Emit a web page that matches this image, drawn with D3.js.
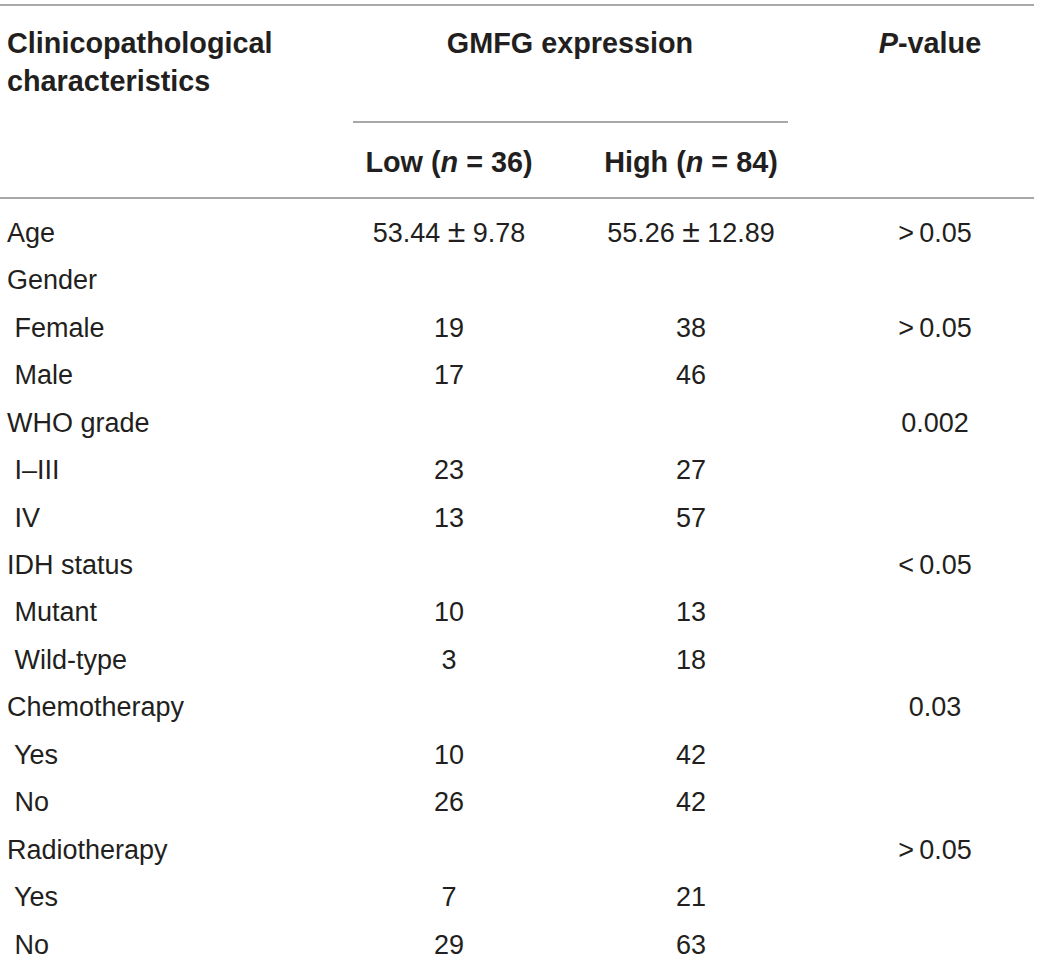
<!DOCTYPE html>
<html>
<head>
<meta charset="utf-8">
<script src="https://cdn.jsdelivr.net/npm/d3@7"></script>
<style>
  body { margin: 0; background: #fff; }
  text { font-family: "Liberation Sans", Arial, sans-serif; fill: #231f20; }
</style>
</head>
<body>
<svg width="1040" height="959"></svg>
<script>
// table values
const rowLabels = ['Age', 'Gender', ' Female', ' Male', 'WHO grade', ' I\u2013III', ' IV',
  'IDH status', ' Mutant', ' Wild-type', 'Chemotherapy', ' Yes', ' No', 'Radiotherapy', ' Yes', ' No'];
const lowValues = ['53.44 \u00b1 9.78', '', '19', '17', '', '23', '13', '', '10', '3', '', '10', '26', '', '7', '29'];
const highValues = ['55.26 \u00b1 12.89', '', '38', '46', '', '27', '57', '', '13', '18', '', '42', '42', '', '21', '63'];
const pValues = ['>\u20090.05', '', '>\u20090.05', '', '0.002', '', '', '<\u20090.05', '', '', '0.03', '', '', '>\u20090.05', '', ''];
const columns = ['label', 'low', 'high', 'p'];

const svg = d3.select('svg');

// column centres
const xCol = d3.scaleOrdinal().domain(['low', 'high', 'p']).range([449, 691, 935]);

// row baselines
const yRow = d3.scaleLinear().domain([0, rowLabels.length - 1]).range([242, 953.5]);

const rows = rowLabels.map((l, i) => ({
  label: l, low: lowValues[i], high: highValues[i], p: pValues[i]
}));

// rules
const rule = (x1, x2, y) => svg.append('line')
  .attr('x1', x1).attr('x2', x2).attr('y1', y).attr('y2', y)
  .attr('stroke', '#8c8c8c').attr('stroke-width', 1.6);
rule(0, 1034, 5);
rule(353, 788, 122);
rule(0, 1034, 198);

// headers
const head = svg.append('g').attr('font-weight', 'bold').attr('font-size', 28.8);
head.append('text').attr('x', 7).attr('y', 53).text('Clinicopathological');
head.append('text').attr('x', 7).attr('y', 91).text('characteristics');
head.append('text').attr('x', 570).attr('y', 53).attr('text-anchor', 'middle').text('GMFG expression');
const pv = head.append('text').attr('x', xCol('p') - 5).attr('y', 53).attr('text-anchor', 'middle');
pv.append('tspan').attr('font-style', 'italic').text('P');
pv.append('tspan').text('-value');

const sub = (key, label, n) => {
  const t = head.append('text').attr('x', xCol(key)).attr('y', 172).attr('text-anchor', 'middle');
  t.append('tspan').text(label + ' (');
  t.append('tspan').attr('font-style', 'italic').text('n');
  t.append('tspan').text(' = ' + n + ')');
};
sub('low', 'Low', 36);
sub('high', 'High', 84);

// body
const body = svg.append('g').attr('font-size', 27).style('fill', '#2b2b2b');
body.selectAll('text.lab')
  .data(rows)
  .enter().append('text')
  .attr('class', 'lab')
  .attr('x', 7)
  .attr('y', (d, i) => yRow(i))
  .attr('xml:space', 'preserve')
  .style('white-space', 'pre')
  .text(d => d.label);

columns.slice(1).forEach(key => {
  const t = body.selectAll('text.' + key)
    .data(rows.filter(d => d[key] !== '').map(d => ({ v: d[key], i: rows.indexOf(d) })))
    .enter().append('text')
    .attr('class', key)
    .attr('x', xCol(key))
    .attr('y', d => yRow(d.i))
    .attr('text-anchor', 'middle')
    .attr('xml:space', 'preserve')
    .style('white-space', 'pre');
  // bigger plus-minus sign, like the reference
  t.each(function (d) {
    const parts = d.v.split('\u00b1');
    const el = d3.select(this);
    el.append('tspan').text(parts[0]);
    if (parts.length > 1) {
      el.append('tspan').attr('font-size', 32).text('\u00b1');
      el.append('tspan').text(parts[1]);
    }
  });
});
</script>
</body>
</html>
